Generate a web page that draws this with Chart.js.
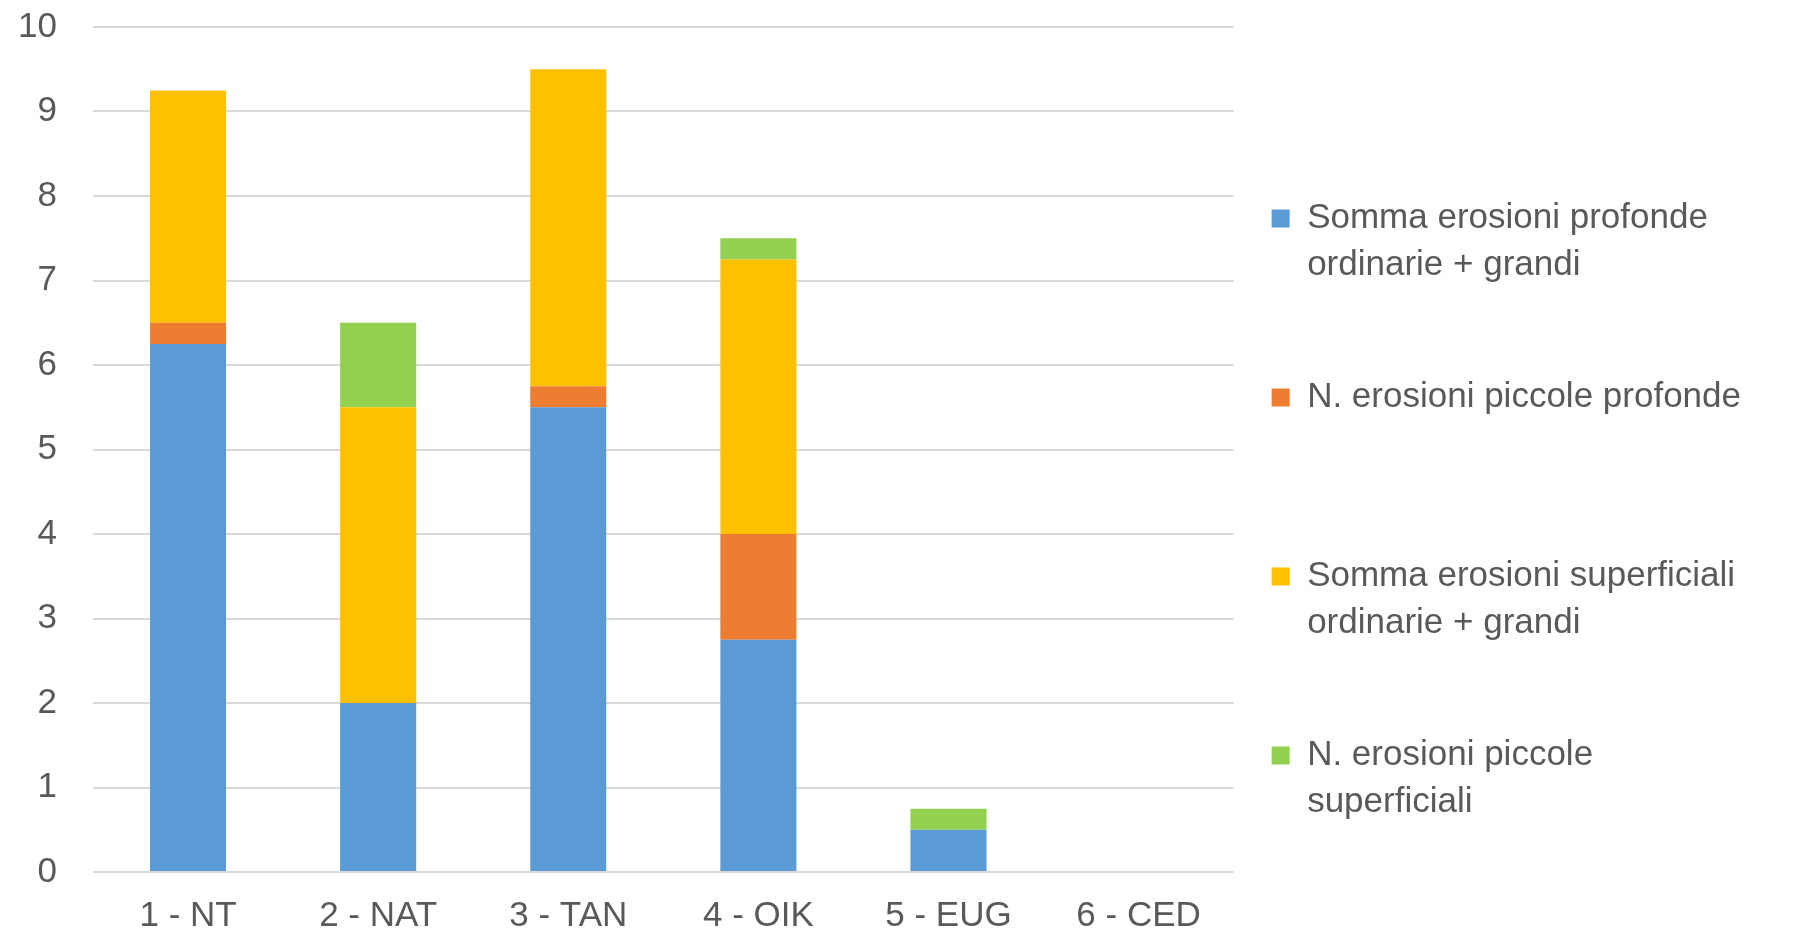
<!DOCTYPE html>
<html>
<head>
<meta charset="utf-8">
<script src="https://cdn.jsdelivr.net/npm/chart.js@4.4.1/dist/chart.umd.min.js"></script>
<style>
  html, body { margin: 0; padding: 0; background: #ffffff; }
  #wrap { position: relative; width: 1808px; height: 935px; }
</style>
</head>
<body>
<div id="wrap"><canvas id="c"></canvas></div>
<script>
const categories = ['1 - NT', '2 - NAT', '3 - TAN', '4 - OIK', '5 - EUG', '6 - CED'];
const seriesNames = [
  'Somma erosioni profonde ordinarie + grandi',
  'N. erosioni piccole profonde',
  'Somma erosioni superficiali ordinarie + grandi',
  'N. erosioni piccole superficiali'
];
const legendLines = [
  ['Somma erosioni profonde', 'ordinarie + grandi', ''],
  ['N. erosioni piccole profonde', '', ''],
  ['Somma erosioni superficiali', 'ordinarie + grandi', ''],
  ['N. erosioni piccole', 'superficiali']
];
const profondeOrdGrandi = [6.25, 2, 5.5, 2.75, 0.5, 0];
const piccoleProfonde = [0.25, 0, 0.25, 1.25, 0, 0];
const superficialiOrdGrandi = [2.75, 3.5, 3.75, 3.25, 0, 0];
const piccoleSuperficiali = [0, 1, 0, 0.25, 0.25, 0];
const yTicks = [0, 1, 2, 3, 4, 5, 6, 7, 8, 9, 10];

const colors = ['#5b9bd5', '#ed7d31', '#ffc000', '#92d050'];
const values = [profondeOrdGrandi, piccoleProfonde, superficialiOrdGrandi, piccoleSuperficiali];

const FONT = '"Liberation Sans", Arial, sans-serif';
const TEXT = '#595959';

new Chart(document.getElementById('c'), {
  type: 'bar',
  data: {
    labels: categories,
    datasets: values.map((v, i) => ({
      label: seriesNames[i],
      data: v,
      backgroundColor: colors[i],
      borderWidth: 0,
      categoryPercentage: 1,
      barPercentage: 0.4
    }))
  },
  options: {
    responsive: true,
    maintainAspectRatio: false,
    animation: false,
    layout: { padding: { left: 18, right: 57, top: 0, bottom: 0 } },
    scales: {
      x: {
        stacked: true,
        grid: { display: false, drawTicks: false },
        border: { display: false },
        ticks: { color: TEXT, font: { family: FONT, size: 35 }, padding: 23, maxRotation: 0 },
        afterFit: (s) => { s.height = 63; s.paddingLeft = 0; s.paddingRight = 0; }
      },
      y: {
        stacked: true,
        min: 0,
        max: 10,
        afterBuildTicks: (s) => { s.ticks = yTicks.map(v => ({ value: v })); },
        grid: { color: '#d9d9d9', lineWidth: 2, drawTicks: false },
        border: { display: false },
        ticks: { color: TEXT, font: { family: FONT, size: 35 }, padding: 36 },
        afterFit: (s) => { s.width = 75; s.paddingTop = 27; s.paddingBottom = 0; }
      }
    },
    plugins: {
      tooltip: { enabled: true },
      legend: {
        position: 'right',
        align: 'start',
        maxWidth: 700,
        title: { display: true, text: '', font: { size: 10, lineHeight: 1 }, padding: { top: 153, bottom: 0 } },
        labels: {
          color: TEXT,
          boxWidth: 18,
          boxHeight: 18,
          padding: 38,
          font: { family: FONT, size: 35, lineHeight: 47 / 35 },
          generateLabels: (chart) => Chart.defaults.plugins.legend.labels.generateLabels(chart)
            .map((it, i) => Object.assign({}, it, { text: legendLines[i], lineWidth: 0 }))
        }
      }
    }
  }
});
</script>
</body>
</html>
